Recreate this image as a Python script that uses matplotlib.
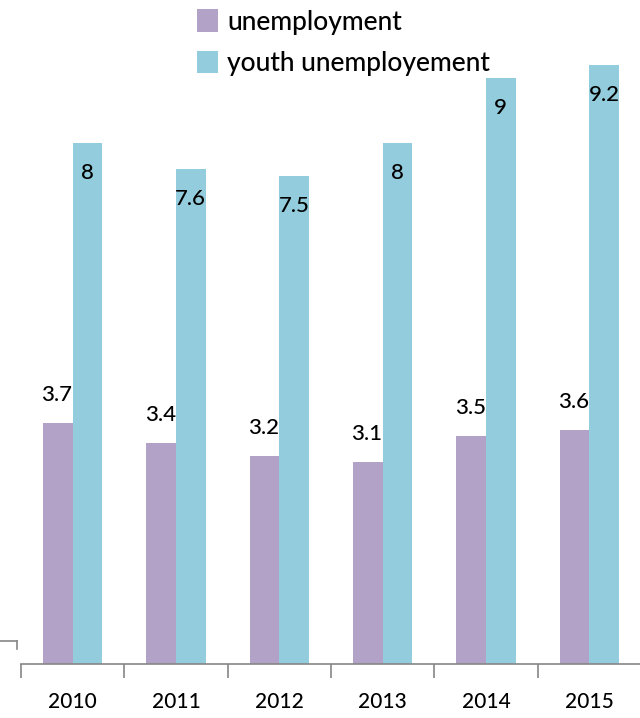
import matplotlib
matplotlib.use("Agg")
import matplotlib.pyplot as plt
from matplotlib.lines import Line2D
import numpy as np

years = ["2010", "2011", "2012", "2013", "2014", "2015"]
unemployment = [3.7, 3.4, 3.2, 3.1, 3.5, 3.6]
youth_unemployment = [8, 7.6, 7.5, 8, 9, 9.2]
series_names = ["unemployment", "youth unemployement"]

plt.rcParams['font.family'] = ['Lato', 'DejaVu Sans']

W, H = 640, 718
fig = plt.figure(figsize=(W / 100, H / 100), dpi=100)
ax = fig.add_axes([21 / W, 54 / H, 620 / W, 651 / H])

x = np.arange(len(years))
bw = 0.286
c1, c2 = "#B2A2C7", "#93CDDD"
b1 = ax.bar(x - bw / 2, unemployment, bw, color=c1, label=series_names[0])
b2 = ax.bar(x + bw / 2, youth_unemployment, bw, color=c2, label=series_names[1])

for xi, v in zip(x, unemployment):
    ax.annotate(f"{v:g}", (xi - bw / 2, v), xytext=(-1, 28), textcoords="offset pixels",
                ha="center", va="center", fontsize=16, fontweight="medium")
for xi, v in zip(x, youth_unemployment):
    ax.annotate(f"{v:g}", (xi + bw / 2, v), xytext=(0, -30), textcoords="offset pixels",
                ha="center", va="center", fontsize=16, fontweight="medium")

ax.set_xlim(-0.5, 5.5)
ax.set_ylim(0, 10)
ax.set_xticks(x)
ax.set_xticklabels(years, fontsize=15, fontweight="medium")
ax.set_xticks(np.arange(-0.5, 6.0, 1.0), minor=True)
ax.tick_params(axis="x", which="major", length=0, pad=20)
ax.tick_params(axis="x", which="minor", length=10, color="#868686", width=1.2)
ax.set_yticks([])
for s in ["top", "right", "left"]:
    ax.spines[s].set_visible(False)
ax.spines["bottom"].set_color("#868686")
ax.spines["bottom"].set_linewidth(1.2)

leg = ax.legend(handles=[b1, b2], loc="upper left",
                bbox_to_anchor=(165 / 620, 1 + 13 / 651 + 0.002),
                frameon=False, fontsize=19, handlelength=0.8, handleheight=0.95,
                handletextpad=0.35, labelspacing=0.6, borderaxespad=0,
                prop={"size": 19, "weight": "medium"})

# small artifact at left
fig.add_artist(Line2D([0, 17 / W], [1 - 641 / H, 1 - 641 / H], color="#868686", lw=1.2))
fig.add_artist(Line2D([17 / W, 17 / W], [1 - 641 / H, 1 - 649 / H], color="#868686", lw=1.2))

fig.savefig("out.png", dpi=100)
